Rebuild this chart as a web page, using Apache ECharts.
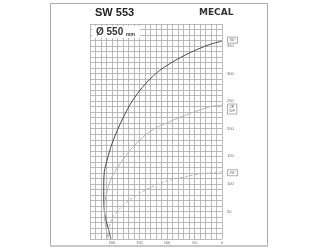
<!DOCTYPE html>
<html><head><meta charset="utf-8">
<script src="https://cdn.jsdelivr.net/npm/echarts@6/dist/echarts.min.js"></script>
<style>html,body{margin:0;padding:0;background:#fff}#c{width:320px;height:250px}</style>
</head><body><div id="c"></div>
<script>
const xTickLabels = [0, 50, 100, 150, 200];
const yTickLabels = [50, 100, 150, 200, 250, 300, 350];
const curveNames = ['30°', '2F\nDF', '20°'];
const c1X = [202, 207, 213, 215, 215, 214, 209, 200, 185, 167, 149, 131, 113, 95, 76, 58, 40, 22, 0];
const c1Y = [0, 20, 44, 74, 98, 122, 143, 173, 209, 244, 270, 290, 306, 318, 329, 338, 346, 353, 359];
const c2X = [207, 212, 214, 209, 200, 185, 167, 149, 131, 113, 95, 76, 58, 40, 22, 0];
const c2Y = [1, 25, 57, 86, 113, 137, 161, 180, 195, 205, 213, 221, 228, 234, 240, 243];
const c3X = [207, 205, 198, 185, 167, 149, 131, 113, 95, 76, 58, 40, 22, 0];
const c3Y = [4, 22, 40, 56, 72, 83, 93, 101, 107, 111, 115, 118, 120, 122];

const pairs = (xs, ys) => xs.map((x, i) => [x, ys[i]]);
const chart = echarts.init(document.getElementById('c'), null, {renderer: 'canvas'});
const endMark = (xs, ys, txt, dy) => ({
  symbol: 'circle', symbolSize: 1, silent: true, itemStyle: {color: 'rgba(0,0,0,0)'},
  data: [{coord: [xs[xs.length - 1], ys[ys.length - 1]]}],
  label: {show: true, position: 'right', distance: 5, offset: [0, dy], formatter: txt, fontSize: 4, lineHeight: 4,
    color: '#555', borderColor: '#777', borderWidth: 0.6, padding: [1, 2], fontFamily: 'Liberation Sans'}
});
chart.setOption({
  backgroundColor: '#fff',
  animation: false,
  grid: {left: 90, top: 24, width: 132, height: 215},
  xAxis: {
    type: 'value', min: 0, max: 240, interval: 10, inverse: true,
    axisLine: {show: false}, axisTick: {show: false},
    splitLine: {show: true, lineStyle: {color: '#a9a9a9', width: 0.8}},
    axisLabel: {fontSize: 4, color: '#666', margin: 2, fontFamily: 'Liberation Sans',
      formatter: v => xTickLabels.includes(v) ? String(v) : ''}
  },
  yAxis: {
    type: 'value', min: 0, max: 390, interval: 10, position: 'right',
    axisLine: {show: false}, axisTick: {show: false},
    splitLine: {show: true, lineStyle: {color: '#a9a9a9', width: 0.8}},
    axisLabel: {fontSize: 4, color: '#666', margin: 5, fontFamily: 'Liberation Sans',
      formatter: v => yTickLabels.includes(v) ? String(v) : ''}
  },
  series: [
    {type: 'line', data: pairs(c1X, c1Y), smooth: 0.3, symbol: 'none',
     lineStyle: {color: '#4a4a4a', width: 1}, markPoint: endMark(c1X, c1Y, curveNames[0], -1)},
    {type: 'line', data: pairs(c2X, c2Y), smooth: 0.3, symbol: 'none',
     lineStyle: {color: '#b5b5b5', width: 1}, markPoint: endMark(c2X, c2Y, curveNames[1], 4)},
    {type: 'line', data: pairs(c3X, c3Y), smooth: 0.3, symbol: 'none',
     lineStyle: {color: '#b5b5b5', width: 1, type: [3, 2]}, markPoint: endMark(c3X, c3Y, curveNames[2], 1)}
  ],
  graphic: [
    {type: 'rect', shape: {x: 50.5, y: 3.5, width: 217, height: 242}, style: {fill: 'none', stroke: '#aaa', lineWidth: 1}, z: 10},
    {type: 'line', shape: {x1: 50, y1: 246, x2: 268, y2: 246}, style: {stroke: '#c8c8c8', lineWidth: 2}, z: 10},
    {type: 'text', left: 95, top: 7, style: {text: 'SW 553', font: 'bold 11px "Liberation Sans"', fill: '#222'}, z: 10},
    {type: 'text', left: 199, top: 8, style: {text: 'MECAL', font: 'bold 9px "DejaVu Sans"', fill: '#333'}, z: 10},
    {type: 'rect', shape: {x: 92, y: 26, width: 48, height: 12}, style: {fill: '#fff'}, z: 10},
    {type: 'text', left: 96, top: 27, style: {text: 'Ø 550', font: 'bold 10px "Liberation Sans"', fill: '#333'}, z: 11},
    {type: 'text', left: 126, top: 32, style: {text: 'mm', font: 'bold 5px "Liberation Sans"', fill: '#333'}, z: 11}
  ]
});
</script></body></html>
